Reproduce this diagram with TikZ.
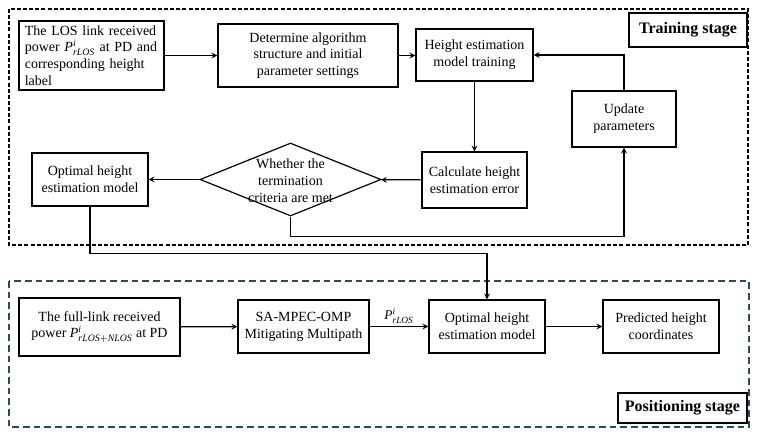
\documentclass[tikz,border=0pt]{standalone}
\usepackage{fontspec}
\setmainfont{Liberation Serif}
\usetikzlibrary{shapes.geometric, arrows, calc, positioning}
\definecolor{slate}{HTML}{2E4A5C}
\tikzstyle{block} = [rectangle, draw=black, line width=1.1pt, text centered, align=center, inner sep=1pt]
\tikzstyle{decision} = [diamond, draw=black, line width=0.9pt, inner sep=0pt]
\tikzstyle{stage} = [rectangle, draw=black, line width=1.1pt, font=\bfseries\fontsize{12}{14}\selectfont]
\tikzstyle{arrow} = [->, >=stealth, line width=0.9pt]
\newcommand{\prlos}[1]{$\mathit{P}^{\mathit{i}}_{\mathit{#1}}$}

\begin{document}
\begin{tikzpicture}[x=0.75pt, y=-0.75pt, font=\fontsize{10.5}{12.6}\selectfont]
	\useasboundingbox (0,0) rectangle (758,435);

	% stage frames
	\draw[line width=1pt, dash pattern=on 3pt off 1.6pt] (9,9) rectangle (748,245);
	\draw[slate, line width=1.1pt, dash pattern=on 5pt off 3pt] (9,281) rectangle (749,427);
	\node (trainlbl) [stage, minimum width=88.5pt, minimum height=25.5pt] at (688,30) {Training stage};
	\node (poslbl) [stage, minimum width=96.75pt, minimum height=22.5pt] at (682.5,408) {Positioning stage};

	% training stage nodes
	\node (los) [block, minimum width=108.75pt, minimum height=51.75pt, align=left, text width=100pt] at (91.5,55.5)
		{The LOS link received\\power \prlos{rLOS} at PD and\\corresponding height\\label};
	\node (algo) [block, minimum width=135pt, minimum height=47.25pt] at (308,55.5)
		{Determine algorithm\\structure and initial\\parameter settings};
	\node (train) [block, minimum width=87.75pt, minimum height=39pt] at (474.5,55)
		{Height estimation\\model training};
	\node (update) [block, minimum width=78pt, minimum height=42pt] at (624,119)
		{Update\\parameters};
	\node (calc) [block, minimum width=78.75pt, minimum height=42pt] at (474.5,180)
		{Calculate height\\estimation error};
	\node (judge) [decision, minimum width=135.75pt, minimum height=54.75pt,
		label={[align=center, yshift=-1pt]center:Whether the\\termination\\criteria are met}] at (290.5,179.5) {};
	\node (opt1) [block, minimum width=87pt, minimum height=39.75pt] at (90,179.5)
		{Optimal height\\estimation model};

	% positioning stage nodes
	\node (full) [block, minimum width=120.75pt, minimum height=43.5pt] at (99.5,327)
		{The full-link received\\power \prlos{rLOS+NLOS} at PD};
	\node (mpec) [block, minimum width=98.25pt, minimum height=39.75pt] at (303.5,326.5)
		{SA-MPEC-OMP\\Mitigating Multipath};
	\node (opt2) [block, minimum width=87pt, minimum height=39.75pt] at (487,326.5)
		{Optimal height\\estimation model};
	\node (pred) [block, minimum width=87pt, minimum height=39.75pt] at (661,326.5)
		{Predicted height\\coordinates};

	% connectors
	\draw [arrow] (los) -- (algo);
	\draw [arrow] (algo.east) -- (train.west |- algo.east);
	\draw [arrow] (train) -- (calc);
	\draw [arrow] (calc) -- (judge);
	\draw [arrow] (judge) -- (opt1);
	\draw [arrow] (update.north) |- (train.east);
	\draw [arrow] (judge.south) -- ++(0,19.5) -| (update.south);
	\draw [arrow] (opt1.south) -- ++(0,47) -| (opt2.north);
	\draw [arrow] (full) -- (mpec);
	\draw [arrow] (mpec) -- (opt2) node[midway, above, inner sep=2pt, font=\fontsize{10}{12}\selectfont] {\prlos{rLOS}};
	\draw [arrow] (opt2) -- (pred);
\end{tikzpicture}
\end{document}
